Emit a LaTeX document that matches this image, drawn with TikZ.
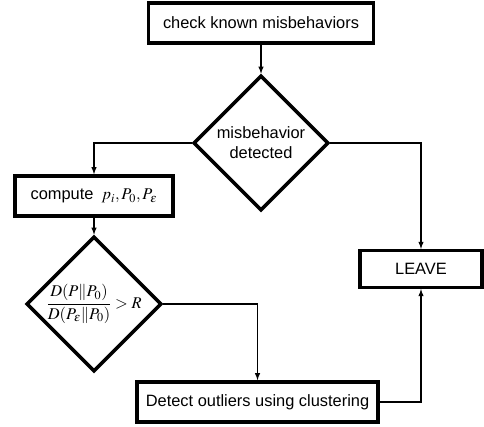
\documentclass[tikz,border=0pt]{standalone}
\usepackage{amsmath,mathptmx}
\usepackage{fontspec}
\setmainfont{Liberation Sans}
\usetikzlibrary{shapes,arrows,positioning}
\tikzstyle{caja} = [draw, line width=3pt, rectangle, inner sep=2pt, minimum height=1.2cm, font=\fontsize{14}{16}\selectfont]
\tikzstyle{rombo} = [draw, line width=3pt, diamond, aspect=1, inner sep=0pt, minimum width=4.05cm, minimum height=4.05cm, align=center, font=\fontsize{14}{17}\selectfont]
\tikzstyle{linea} = [draw, line width=1.1pt, -latex]

\begin{document}
\begin{tikzpicture}[x=0.03cm, y=-0.03cm]
\useasboundingbox (0,0) rectangle (484,426);
% cajas y rombos
\node [caja, minimum width=6.75cm] (check) at (261,23) {check known misbehaviors};
\node [rombo] (detected) at (261,143) {misbehavior\\detected};
\node [caja, minimum width=4.74cm] (compute) at (94,196) {compute\enspace$p_i, P_0, P_\varepsilon$};
\node [rombo] (ratio) at (94,304) {$\dfrac{D(P\|P_0)}{D(P_\varepsilon\|P_0)} > R$};
\node [caja, minimum width=3.66cm, minimum height=1.1cm] (leave) at (421,269) {LEAVE};
\node [caja, minimum width=7.23cm] (outliers) at (257.5,402) {Detect outliers using clustering};
% conexiones
\path [linea] (check) -- (detected);
\path [linea] (detected.west) -| (compute.north);
\path [linea] (detected.east) -| (leave.north);
\path [linea] (compute) -- (ratio);
\path [linea] (ratio.east) -| (outliers.north);
\path [linea] (outliers.east) -| (leave.south);
\end{tikzpicture}
\end{document}
